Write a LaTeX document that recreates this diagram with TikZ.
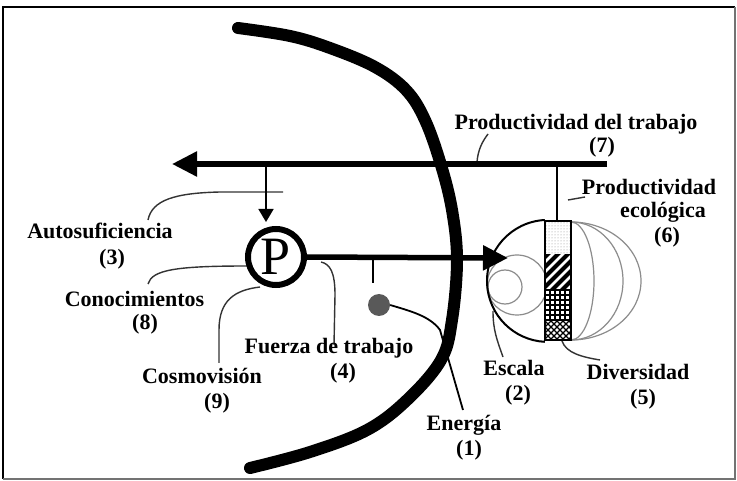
\documentclass[tikz,border=0pt]{standalone}
\usepackage{fontspec}
\setmainfont{Liberation Serif}
\usetikzlibrary{arrows.meta,patterns}
\begin{document}
\begin{tikzpicture}[x=1pt,y=-1pt,
  lbl/.style={font=\fontsize{22}{24}\selectfont\bfseries, inner sep=0pt, anchor=base},
  lead/.style={draw=black!80, line width=1.4pt},
  thinarc/.style={draw=black!45, line width=1.2pt},
  bigarrow/.style={line width=5.5pt, -{Triangle[length=25pt,width=24pt]}},
]
\useasboundingbox (0,0) rectangle (737,481);
\fill[white] (0,0) rectangle (737,481);
% frame
\draw[line width=2pt] (3,479) -- (3,7) -- (735,7);
\draw[line width=1.5pt, black!55] (3,479) -- (735,479) -- (735,7);

% ---- leaders behind everything
\coordinate (autoA) at (148,220);
\coordinate (autoB) at (283,192);
\draw[lead] (autoA) .. controls (152,200) and (175,193) .. (220,192) -- (autoB);
\coordinate (conA) at (148,284);
\coordinate (conB) at (247,266);
\draw[lead] (conA) .. controls (152,270) and (175,266) .. (conB);
\coordinate (cosA) at (219,363);
\coordinate (cosB) at (260,287);
\draw[lead] (cosA) -- (219,330) .. controls (219,300) and (235,290) .. (cosB);
\coordinate (fueA) at (334,345);
\coordinate (fueB) at (321,262);
\draw[lead] (fueA) -- (335,295) .. controls (335,272) and (330,264) .. (fueB);
\node[circle, fill=black!65, minimum size=22pt, inner sep=0pt] (dot) at (379,305) {};
\coordinate (eneA) at (463,410);
\draw[line width=1.8pt] (eneA) -- (440,330) .. controls (430,316) and (410,311) .. (dot.east);
\coordinate (prtA) at (488,134);
\coordinate (prtB) at (477,162);
\draw[lead] (prtA) .. controls (482,142) and (478,150) .. (prtB);
\coordinate (preA) at (585,197);
\coordinate (preB) at (568,200);
\draw[lead] (preA) -- (preB);
\coordinate (escA) at (503,357);
\coordinate (escB) at (493,311);
\draw[lead] (escA) .. controls (497,340) and (493,330) .. (escB);
\coordinate (divA) at (562,341);
\coordinate (divB) at (600,360);
\draw[lead] (divA) .. controls (566,353) and (582,357) .. (divB);

% ---- big curved stroke
\draw[line width=12pt, line cap=round] plot[smooth, tension=0.6] coordinates {
 (238,28) (290,36) (330,48) (375,67) (406,90) (425,120) (441,165) (452,210)
 (457,260) (452,320) (441,360) (407,400) (367,430) (310,452) (250,468)};

% ---- circles of the field
\begin{scope}
\clip (400,200) rectangle (545,360);
\draw[thinarc] (505,287) circle[radius=17];
\draw[thinarc] (517,285) circle[radius=30];
\end{scope}
\draw[line width=2pt] (544.8,220) arc[start angle=-93, end angle=-267, radius=61];
\foreach \rx in {23,52,70}
  \draw[thinarc] (571,222) arc[start angle=-90, end angle=90, x radius=\rx, y radius=59];

% ---- shaded column
\fill[pattern=dots, pattern color=black!45] (545,221) rectangle (571,255);
\begin{scope}
\clip (545,255) rectangle (571,290);
\foreach \k in {0,...,7} \draw[line width=4pt] (540,262+\k*10) -- ++(45,-45);
\end{scope}
\begin{scope}
\clip (545,290) rectangle (571,321);
\foreach \k in {0,...,6} \draw[line width=1.4pt] (545,290+\k*5) -- ++(26,0);
\foreach \k in {0,...,6} \draw[line width=1.4pt] (545+\k*5,290) -- ++(0,31);
\end{scope}
\begin{scope}
\clip (545,321) rectangle (571,340);
\foreach \k in {-6,...,6} \draw[line width=1.3pt] (545+\k*6,321) -- ++(26,26);
\foreach \k in {-1,...,10} \draw[line width=1.3pt] (545+\k*6,321) -- ++(-26,26);
\end{scope}
\node[draw, line width=2.5pt, minimum width=26pt, minimum height=119pt, inner sep=0pt] (col) at (558,280.5) {};
\coordinate (colT) at (557,164);
\draw[line width=2pt] (colT) -- (col.north -| colT);

% ---- arrows and P
\coordinate (barR) at (607,164);
\coordinate (barL) at (172,164);
\draw[bigarrow] (barR) -- (barL);
\node[draw, circle, fill=white, line width=6pt, minimum size=56pt, inner sep=0pt,
      font=\fontsize{54}{54}\selectfont] (P) at (276,257) {P};
\coordinate (dA) at (266,164);
\coordinate (dB) at (266,222);
\draw[line width=1.8pt, -{Triangle[length=13pt,width=15pt]}] (dA) -- (dB);
\coordinate (tipR) at (508,258);
\draw[bigarrow] (P.east) -- (tipR);
\coordinate (tk) at (373,258);
\draw[line width=1.8pt] (tk) -- (373,283);

% ---- labels
\node[lbl] (l7) at (576,130) {Productividad del trabajo};
\node[lbl] (n7) at (602,153) {(7)};
\node[lbl] (l6a) at (649,195) {Productividad};
\node[lbl] (l6b) at (663,218) {ecológica};
\node[lbl] (n6) at (667,243) {(6)};
\node[lbl] (l3) at (100,239) {Autosuficiencia};
\node[lbl] (n3) at (112,265) {(3)};
\node[lbl] (l8) at (134.5,307) {Conocimientos};
\node[lbl] (n8) at (145,330) {(8)};
\node[lbl] (l4) at (329,353) {Fuerza de trabajo};
\node[lbl] (n4) at (343,378) {(4)};
\node[lbl] (l9) at (202,383) {Cosmovisión};
\node[lbl] (n9) at (217,408) {(9)};
\node[lbl] (l1) at (464,430) {Energía};
\node[lbl] (n1) at (469,455) {(1)};
\node[lbl] (l2) at (514,375) {Escala};
\node[lbl] (n2) at (518,400) {(2)};
\node[lbl] (l5) at (638,380) {Diversidad};
\node[lbl] (n5) at (643,404) {(5)};
\end{tikzpicture}
\end{document}
